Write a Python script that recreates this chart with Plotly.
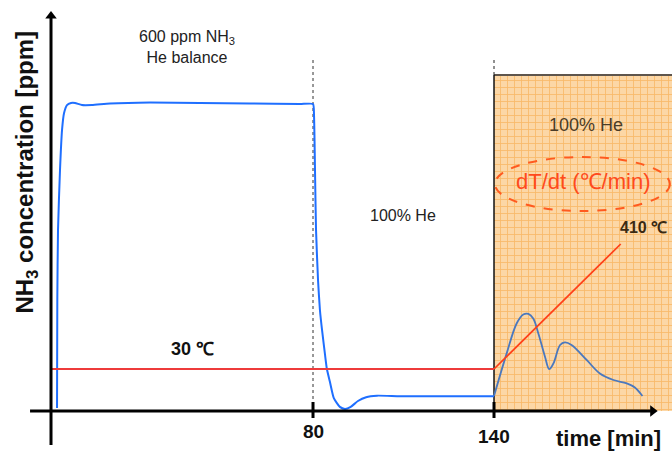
import plotly.graph_objects as go

# ---- data -------------------------------------------------------------
# NH3 signal during adsorption (600 ppm NH3 in He) and He purge  [min, ppm]
t_ads = [-4.86, -4.76, -4.53, -3.87, -3.2, -2.54, -1.55, -0.22, 1.1, 3.4, 6.7,
         12.7, 26.0, 42.5, 59.1, 75.7, 80.0, 80.33, 80.66, 81.0, 81.66, 82.3,
         83.0, 84.0, 84.6, 85.6, 86.9, 88.9, 90.6, 92.5, 94.9, 97.6, 101.2,
         108.8, 125.4, 140.0]
c_ads = [5.9, 219, 354, 471, 549, 582, 598, 602, 602, 598, 598,
         601, 603, 602, 601, 600, 600, 578, 471, 354, 256, 197,
         158, 109, 82, 57, 25, 8, 4, 8, 19.5, 27, 30,
         29, 29, 29]

# NH3 desorbed during the temperature ramp  [min, ppm]
t_tpd = [140.0, 144.2, 147.5, 149.7, 151.4, 153.0, 154.7, 156.9, 158.3, 159.7,
         161.9, 163.5, 165.7, 170.7, 175.1, 179.6, 184.0, 186.7, 189.2]
c_tpd = [29.3, 112.6, 171, 188.6, 189.9, 181, 151.6, 106, 82, 93,
         129, 134, 129, 99.7, 73.3, 60.6, 54, 46, 29.3]

# temperature programme  [min, degC]
t_hold = [-6.85, 140]
T_hold = [30, 30]
t_ramp = [140, 182]
T_ramp = [30, 410]

# TPD window (orange region) [min, ppm]
tpd_start = 140
tpd_top = 656.7
switch_time = 80

tick_vals = [80, 140]
tick_text = ["80", "140"]

# ---- figure -----------------------------------------------------------
FONT = "Arial, 'Liberation Sans', sans-serif"
X_RANGE = [-23.76, 199.0]
Y_RANGE = [-82.1, 803.3]
Y2_RANGE = [-225.4, 1151.9]
AXIS_X = -6.85          # time at which the vertical axis is drawn

fig = go.Figure()

# TPD region with graph-paper fill
fig.add_trace(go.Scatter(
    x=[tpd_start, 210, 210, tpd_start, tpd_start],
    y=[0, 0, tpd_top, tpd_top, 0],
    mode="lines", fill="toself", line=dict(width=0),
    fillcolor="#FCD7A6",
    fillpattern=dict(shape="+", bgcolor="#FCD7A6", fgcolor="#F59A28",
                     size=7, solidity=0.22),
    hoverinfo="skip", showlegend=False))
fig.add_trace(go.Scatter(x=[tpd_start, 210], y=[tpd_top, tpd_top], mode="lines",
                         line=dict(color="#5E554C", width=2), showlegend=False))
fig.add_trace(go.Scatter(x=[tpd_start, tpd_start], y=[0, tpd_top], mode="lines",
                         line=dict(color="#111111", width=1.5), showlegend=False))

# gas-switch markers
fig.add_trace(go.Scatter(x=[switch_time, switch_time], y=[0, 686], mode="lines",
                         line=dict(color="#777777", width=1.5, dash="dot"),
                         showlegend=False))
fig.add_trace(go.Scatter(x=[tpd_start, tpd_start], y=[tpd_top, 686], mode="lines",
                         line=dict(color="#222222", width=1, dash="dot"),
                         showlegend=False))

# temperature
fig.add_trace(go.Scatter(x=t_hold, y=T_hold, yaxis="y2", mode="lines",
                         line=dict(color="#EE3B3B", width=2), showlegend=False))
fig.add_trace(go.Scatter(x=t_ramp, y=T_ramp, yaxis="y2", mode="lines",
                         line=dict(color="#FF3F18", width=1.7), showlegend=False))

# NH3 signal
fig.add_trace(go.Scatter(x=t_ads, y=c_ads, mode="lines",
                         line=dict(color="#1F6FFF", width=2, shape="spline",
                                   smoothing=0.5), showlegend=False))
fig.add_trace(go.Scatter(x=t_tpd, y=c_tpd, mode="lines",
                         line=dict(color="#4A78BE", width=1.8, shape="spline",
                                   smoothing=1.0), showlegend=False))

# axis arrowheads
fig.add_trace(go.Scatter(x=[AXIS_X], y=[772], mode="markers",
                         marker=dict(symbol="triangle-up", size=10, color="black"),
                         hoverinfo="skip", showlegend=False))
fig.add_trace(go.Scatter(x=[192.6], y=[0], mode="markers",
                         marker=dict(symbol="triangle-right", size=10, color="black"),
                         hoverinfo="skip", showlegend=False))

shapes = []
# axis lines
shapes.append(dict(type="line", xref="x", yref="y", x0=-13.8, x1=192.0, y0=0, y1=0,
                   line=dict(color="black", width=3)))
shapes.append(dict(type="line", xref="x", yref="y", x0=AXIS_X, x1=AXIS_X,
                   y0=-66.4, y1=768, line=dict(color="black", width=3)))
# tick marks crossing the time axis
for tv in tick_vals:
    shapes.append(dict(type="line", xref="x", yref="y", x0=tv, x1=tv,
                       y0=-13.7, y1=17.6, line=dict(color="black", width=3)))
# dT/dt ellipse
shapes.append(dict(type="circle", xref="x", yref="y", x0=140.3, x1=198.3,
                   y0=390.9, y1=496.4,
                   line=dict(color="#FF5A1F", width=2, dash="dash")))

ann = []
# tick labels
for tv, tt, yy in zip(tick_vals, tick_text, [-41.0, -48.9]):
    ann.append(dict(x=tv, y=yy, xref="x", yref="y", text=f"<b>{tt}</b>",
                    showarrow=False, font=dict(family=FONT, size=19, color="#111")))

ann.append(dict(x=159.8, y=-54.7, xref="x", yref="y", xanchor="left",
                text="<b>time [min]</b>", showarrow=False,
                font=dict(family=FONT, size=22, color="#111")))
ann.append(dict(x=-14.8, y=466.0, xref="x", yref="y", textangle=-90,
                text="<b>NH<sub>3</sub> concentration [ppm]</b>", showarrow=False,
                font=dict(family=FONT, size=24, color="#111")))

ann.append(dict(x=38.2, y=711.4, xref="x", yref="y",
                text="600 ppm NH<sub>3</sub><br>He balance", showarrow=False,
                font=dict(family=FONT, size=16, color="#222")))
ann.append(dict(x=109.8, y=383.0, xref="x", yref="y", text="100% He",
                showarrow=False, font=dict(family=FONT, size=16, color="#222")))
ann.append(dict(x=170.5, y=559.0, xref="x", yref="y", text="100% He",
                showarrow=False, font=dict(family=FONT, size=18, color="#4A3C28")))
ann.append(dict(x=169.5, y=447.6, xref="x", yref="y", text="dT/dt (℃/min)",
                showarrow=False, font=dict(family=FONT, size=22, color="#FF4A1C")))
ann.append(dict(x=189.4, y=359.6, xref="x", yref="y", text="<b>410 ℃</b>",
                showarrow=False, font=dict(family=FONT, size=16, color="#3B2A12")))
ann.append(dict(x=39.9, y=121.2, xref="x", yref="y", text="<b>30 ℃</b>",
                showarrow=False, font=dict(family=FONT, size=18, color="#111")))

fig.update_layout(
    width=672, height=453,
    margin=dict(l=0, r=0, t=0, b=0),
    paper_bgcolor="white", plot_bgcolor="white",
    xaxis=dict(range=X_RANGE, visible=False, fixedrange=True),
    yaxis=dict(range=Y_RANGE, visible=False, fixedrange=True),
    yaxis2=dict(range=Y2_RANGE, overlaying="y", visible=False, fixedrange=True),
    shapes=shapes, annotations=ann, showlegend=False,
)

fig.write_html("out.html")
